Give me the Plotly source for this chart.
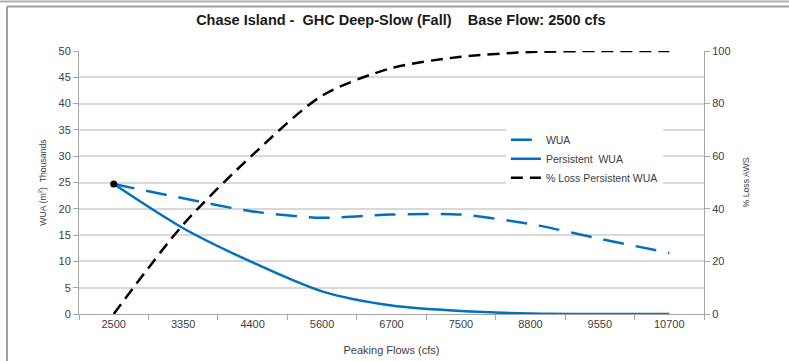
import plotly.graph_objects as go

flows = ["2500", "3350", "4400", "5600", "6700", "7500", "8800", "9550", "10700"]
wua = [24.7, 22.0, 19.5, 18.3, 18.9, 18.9, 17.1, 14.3, 11.6]
persistent_wua = [24.7, 16.3, 9.8, 4.3, 1.6, 0.55, 0.1, 0.0, 0.0]
pct_loss = [0, 34, 60.5, 83, 93.5, 97.8, 99.6, 100, 100]

BLUE = "#0070C0"
GRID = "#d9d9d9"
AXIS = "#a6a6a6"
TXT = "#404040"
FONT = "Liberation Sans, Arial, sans-serif"

fig = go.Figure()
fig.add_trace(go.Scatter(
    x=flows, y=wua, name="WUA", mode="lines",
    line=dict(color=BLUE, width=2.5, dash="21px,12px", shape="spline", smoothing=0.8),
))
fig.add_trace(go.Scatter(
    x=flows, y=persistent_wua, name="Persistent\u00a0 WUA", mode="lines",
    line=dict(color=BLUE, width=2.5, shape="spline", smoothing=0.8),
))
fig.add_trace(go.Scatter(
    x=flows, y=pct_loss, name="% Loss Persistent WUA", mode="lines", yaxis="y2",
    line=dict(color="black", width=2.5, dash="12px,7px", shape="spline", smoothing=0.8),
))
fig.add_trace(go.Scatter(
    x=flows[:1], y=persistent_wua[:1], mode="markers", showlegend=False,
    marker=dict(color="black", size=7),
))

fig.update_layout(
    width=789, height=361,
    margin=dict(l=79, r=85, t=51, b=47, autoexpand=False),
    paper_bgcolor="white", plot_bgcolor="white",
    font=dict(family=FONT, color=TXT, size=10),
    title=dict(
        text="<b>Chase Island -\u00a0 GHC Deep-Slow (Fall)\u00a0\u00a0\u00a0 Base Flow: 2500 cfs</b>",
        x=0.508, xanchor="center", y=0.945, yanchor="middle",
        font=dict(family=FONT, size=14.5, color="#1a1a1a"),
    ),
    xaxis=dict(
        type="category", range=[-0.5, 8.5], tickson="boundaries", ticks="outside", ticklen=5,
        tickcolor=AXIS, showline=True, linecolor=AXIS, linewidth=1,
        showgrid=False, tickfont=dict(size=11, color=TXT), automargin=False,
        title=dict(text="Peaking Flows (cfs)", font=dict(size=11, color=TXT), standoff=17),
    ),
    yaxis=dict(
        range=[0, 50], dtick=5, ticks="outside", ticklen=5, tickcolor=AXIS,
        showline=True, linecolor=AXIS, linewidth=1, automargin=False,
        showgrid=True, gridcolor=GRID, gridwidth=1.5, zeroline=False,
        tickfont=dict(size=11, color=TXT),
        title=dict(text="WUA (m<sup>2</sup>)\u00a0 Thousands", font=dict(size=8.7, color=TXT), standoff=10),
    ),
    yaxis2=dict(
        range=[0, 100], dtick=20, overlaying="y", side="right",
        ticks="outside", ticklen=5, tickcolor=AXIS, automargin=False,
        showline=True, linecolor=AXIS, linewidth=1,
        showgrid=False, zeroline=False,
        tickfont=dict(size=11, color=TXT),
        title=dict(text="% Loss AWS", font=dict(size=8.7, color=TXT), standoff=13),
    ),
    legend=dict(
        x=0.683, y=0.718, xanchor="left", yanchor="top",
        bgcolor="white", font=dict(size=10.5, color=TXT),
        tracegroupgap=0, itemwidth=30,
    ),
    showlegend=True,
    shapes=[
        dict(type="line", xref="paper", yref="paper", x0=-0.2, x1=1.2, y0=1.1886, y1=1.1886,
             line=dict(color="#b0b0b0", width=2)),
        dict(type="line", xref="paper", yref="paper", x0=-0.1152, x1=1.2, y0=1.1696, y1=1.1696,
             line=dict(color="#a0a0a0", width=2)),
        dict(type="line", xref="paper", yref="paper", x0=-0.1152, x1=-0.1152, y0=-0.3, y1=1.1696,
             line=dict(color="#a0a0a0", width=2)),
    ],
)

fig.write_html(
    "out.html",
    config={"displayModeBar": False},
    post_script="document.body.style.margin='0';document.body.style.overflow='hidden';",
)
